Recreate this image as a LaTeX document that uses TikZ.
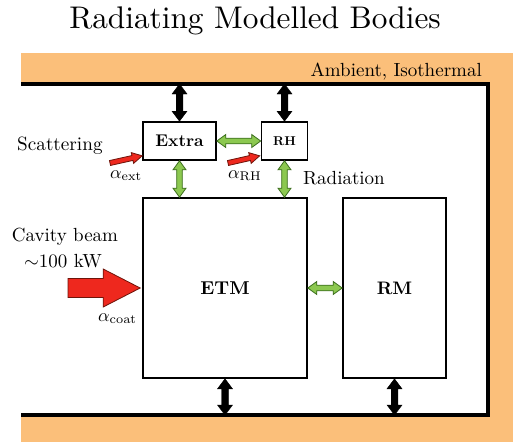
\documentclass[tikz,border=0pt]{standalone}
\usetikzlibrary{calc}
\usepackage{graphicx}
\definecolor{orangebg}{RGB}{251,191,122}
\definecolor{arrgreen}{RGB}{140,200,80}
\definecolor{arrgreendk}{RGB}{60,110,30}
\definecolor{arrred}{RGB}{238,40,30}
\definecolor{arrreddk}{RGB}{110,20,10}
% double-headed fat arrow: #1 style, #2 from, #3 to, #4 head length, #5 head half width, #6 shaft half width
\newcommand\fatdbl[6]{%
  \path[#1] let \p1=(#2), \p2=(#3), \n1={atan2(\y2-\y1,\x2-\x1)} in
    (\p1)
    -- ($(\p1)+({\n1}:#4)+({\n1+90}:#5)$)
    -- ($(\p1)+({\n1}:#4)+({\n1+90}:#6)$)
    -- ($(\p2)+({\n1+180}:#4)+({\n1+90}:#6)$)
    -- ($(\p2)+({\n1+180}:#4)+({\n1+90}:#5)$)
    -- (\p2)
    -- ($(\p2)+({\n1+180}:#4)+({\n1-90}:#5)$)
    -- ($(\p2)+({\n1+180}:#4)+({\n1-90}:#6)$)
    -- ($(\p1)+({\n1}:#4)+({\n1-90}:#6)$)
    -- ($(\p1)+({\n1}:#4)+({\n1-90}:#5)$)
    -- cycle;}
% single-headed fat arrow
\newcommand\fatsgl[6]{%
  \path[#1] let \p1=(#2), \p2=(#3), \n1={atan2(\y2-\y1,\x2-\x1)} in
    ($(\p1)+({\n1+90}:#6)$)
    -- ($(\p2)+({\n1+180}:#4)+({\n1+90}:#6)$)
    -- ($(\p2)+({\n1+180}:#4)+({\n1+90}:#5)$)
    -- (\p2)
    -- ($(\p2)+({\n1+180}:#4)+({\n1-90}:#5)$)
    -- ($(\p2)+({\n1+180}:#4)+({\n1-90}:#6)$)
    -- ($(\p1)+({\n1-90}:#6)$)
    -- cycle;}
\newcommand\sz[2]{\scalebox{#1}{#2}}
\tikzset{
  box/.style={draw=black, line width=1.6pt, fill=white, inner sep=0pt, font=\fontsize{10}{12}\selectfont\bfseries},
  lbl/.style={inner sep=0pt, font=\fontsize{10}{12}\selectfont},
  blackarr/.style={fill=black, draw=black, line width=0.4pt},
  greenarr/.style={fill=arrgreen, draw=arrgreendk, line width=0.8pt},
  redarr/.style={fill=arrred, draw=arrreddk, line width=0.8pt},
}
\begin{document}
\begin{tikzpicture}[x=1pt,y=-1pt]
\useasboundingbox (0,0) rectangle (513,442);
% enclosure
\fill[orangebg] (21,53) rectangle (513,442);
\fill[white] (0,84) rectangle (488,415);
\draw[line width=4pt] (21,84) -- (488,84) -- (488,415) -- (21,415);
\coordinate (wallT) at (0,84);
\coordinate (wallB) at (0,415);
% title and labels
\node[lbl, anchor=base] (title) at (255,28) {\sz{3.13}{Radiating Modelled Bodies}};
\node[lbl, anchor=base east] (amb) at (482,76) {\sz{1.9}{Ambient, Isothermal}};
\node[lbl, anchor=base west] (scat) at (17,150) {\sz{1.92}{Scattering}};
\node[lbl, anchor=base west] (rad) at (303,184) {\sz{1.9}{Radiation}};
\node[lbl, anchor=base] (cav) at (65,241) {\sz{1.9}{Cavity beam}};
\node[lbl, anchor=base] (pow) at (63,267) {\sz{1.9}{$\sim$100 kW}};
% boxes
\node[box, minimum width=73pt, minimum height=38pt] (extra) at (179.5,141) {\sz{1.7}{Extra}};
\node[box, minimum width=46pt, minimum height=38pt] (rh) at (284.5,141) {\sz{1.28}{RH}};
\node[box, minimum width=164pt, minimum height=180pt] (etm) at (225,288) {\sz{1.86}{ETM}};
\node[box, minimum width=103pt, minimum height=180pt] (rm) at (394.5,288) {\sz{1.81}{RM}};
% alpha labels
\node[lbl, anchor=base west] (aext) at (110,178) {\sz{1.8}{$\alpha_{\mathrm{ext}}$}};
\node[lbl, anchor=base west] (arh) at (228,178) {\sz{1.8}{$\alpha_{\mathrm{RH}}$}};
\node[lbl, anchor=base west] (acoat) at (98,321) {\sz{1.8}{$\alpha_{\mathrm{coat}}$}};
% black conduction arrows
\fatdbl{blackarr}{extra.north}{extra.north |- wallT}{10pt}{7.5pt}{3.3pt}
\fatdbl{blackarr}{rh.north}{rh.north |- wallT}{10pt}{7.5pt}{3.3pt}
\fatdbl{blackarr}{etm.south}{etm.south |- wallB}{10pt}{7.5pt}{3.3pt}
\fatdbl{blackarr}{rm.south}{rm.south |- wallB}{10pt}{7.5pt}{3.3pt}
% green radiation arrows
\fatdbl{greenarr}{extra.east}{rh.west}{9pt}{6.5pt}{2.8pt}
\fatdbl{greenarr}{extra.south}{extra.south |- etm.north}{9pt}{6.5pt}{2.8pt}
\fatdbl{greenarr}{rh.south}{rh.south |- etm.north}{9pt}{6.5pt}{2.8pt}
\fatdbl{greenarr}{etm.east}{rm.west}{9pt}{6.5pt}{2.8pt}
% red absorbed arrows
\coordinate (scatA) at (110,163);
\coordinate (scatB) at ($(extra.south west)+(0,-5)$);
\coordinate (rhA) at (228,163);
\coordinate (rhB) at ($(rh.south west)+(-1,-5)$);
\coordinate (beamA) at (68,288);
\coordinate (beamB) at ($(etm.west)+(-2,0)$);
\fatsgl{redarr}{scatA}{scatB}{10pt}{5.5pt}{2.5pt}
\fatsgl{redarr}{rhA}{rhB}{10pt}{5.5pt}{2.5pt}
\fatsgl{redarr}{beamA}{beamB}{37pt}{19pt}{9.5pt}
\end{tikzpicture}
\end{document}
